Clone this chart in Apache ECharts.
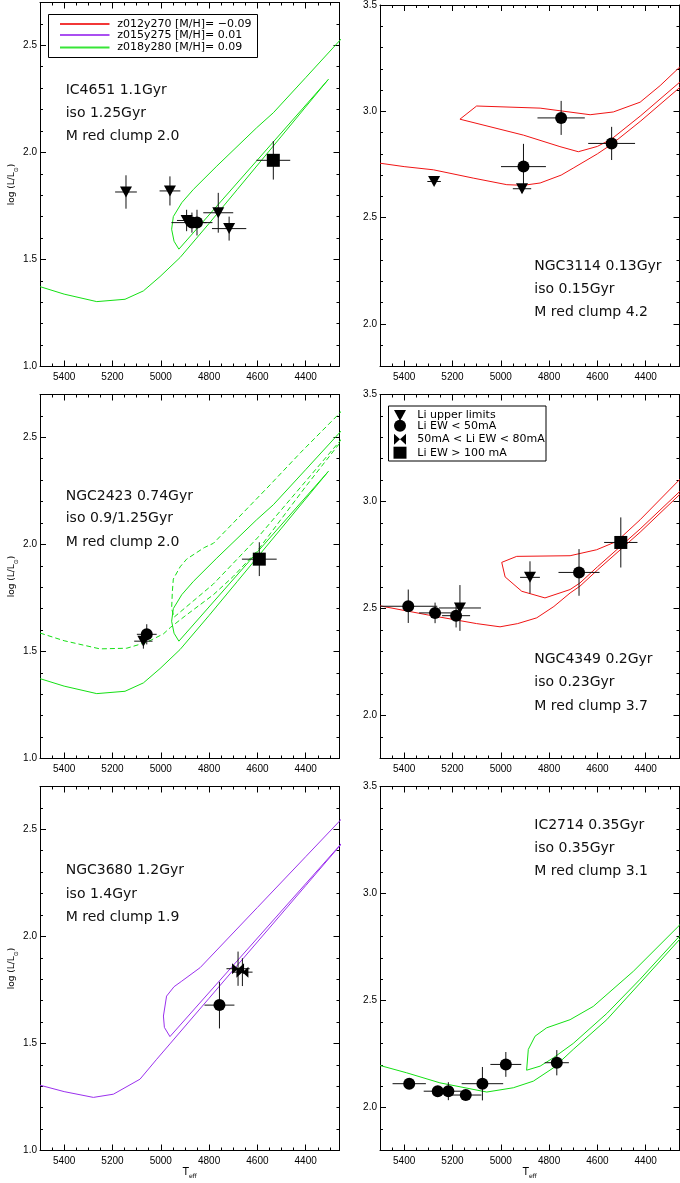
<!DOCTYPE html>
<html>
<head>
<meta charset="utf-8">
<title>Li-rich red clump giants and isochrones</title>
<script src="https://cdn.jsdelivr.net/npm/echarts@6.0.0/dist/echarts.min.js"></script>
<style>
html,body{margin:0;padding:0;background:#fff;}
#chart{width:680px;height:1183px;}
</style>
</head>
<body>
<div id="chart"></div>
<script>
// ---------------- axis ranges and ticks ----------------
const teffRange = [4260, 5500];
const teffTicks = [5400, 5200, 5000, 4800, 4600, 4400];
const teffMinorTicks = [5450, 5350, 5300, 5250, 5150, 5100, 5050, 4950, 4900, 4850, 4750, 4700, 4650, 4550, 4500, 4450, 4350, 4300];
const lumRangeLeft = [1.0, 2.7];
const lumTicksLeft = [1.0, 1.5, 2.0, 2.5];
const lumMinorLeft = [1.1, 1.2, 1.3, 1.4, 1.6, 1.7, 1.8, 1.9, 2.1, 2.2, 2.3, 2.4, 2.6];
const lumRangeRight = [1.8, 3.5];
const lumTicksRight = [2.0, 2.5, 3.0, 3.5];
const lumMinorRight = [1.9, 2.1, 2.2, 2.3, 2.4, 2.6, 2.7, 2.8, 2.9, 3.1, 3.2, 3.3, 3.4];

// ---------------- isochrones [Teff, log L/Lsun] ----------------
// z018y280 [M/H]=0.09, 1.25 Gyr
const isoZ018_125 = [
  [5500,1.373],[5400,1.338],[5265,1.303],[5148,1.314],[5072,1.353],[5003,1.420],[4920,1.509],
  [4800,1.668],[4683,1.827],[4500,2.076],[4306,2.341],
  [4925,1.548],[4945,1.585],[4955,1.641],[4948,1.700],[4913,1.765],[4865,1.827],[4768,1.936],
  [4603,2.115],[4534,2.185],[4400,2.349],[4261,2.520],[4230,2.558]
];
// z018y280 [M/H]=0.09, 0.9 Gyr (dashed)
const isoZ018_090 = [
  [5500,1.586],[5400,1.550],[5252,1.512],[5141,1.515],[5058,1.543],[4989,1.582],[4960,1.612],
  [4900,1.665],[4782,1.765],[4700,1.850],[4600,1.970],[4400,2.270],[4261,2.470],[4200,2.560],
  [4600,2.030],[4782,1.815],[4945,1.660],[4955,1.700],[4952,1.780],[4948,1.838],[4920,1.895],
  [4893,1.931],[4820,1.985],[4782,2.005],[4700,2.100],[4561,2.262],[4420,2.430],[4261,2.611],[4230,2.650]
];
// z015y275 [M/H]=0.01, 1.4 Gyr
const isoZ015_140 = [
  [5500,1.305],[5400,1.275],[5279,1.248],[5196,1.263],[5086,1.333],[5017,1.426],[4962,1.498],
  [4800,1.711],[4600,1.974],[4400,2.237],[4261,2.420],[4200,2.500],
  [4962,1.532],[4985,1.575],[4989,1.628],[4976,1.721],[4945,1.765],[4913,1.791],[4837,1.854],
  [4600,2.135],[4400,2.372],[4261,2.537],[4230,2.575]
];
// z012y270 [M/H]=-0.09, 0.15 Gyr
const isoZ012_015 = [
  [5500,2.756],[5400,2.740],[5279,2.725],[5114,2.686],[4975,2.655],[4906,2.652],[4837,2.663],
  [4750,2.700],[4700,2.733],[4600,2.800],[4541,2.845],[4420,2.955],[4261,3.110],[4200,3.180],
  [4261,3.135],[4420,2.980],[4541,2.870],[4600,2.835],[4679,2.810],[4755,2.834],[4906,2.888],[5169,2.963],
  [5100,3.025],[4837,3.015],[4630,2.984],[4534,2.997],[4423,3.043],[4340,3.121],[4261,3.206],[4230,3.240]
];
// z012y270 [M/H]=-0.09, 0.23 Gyr
const isoZ012_023 = [
  [5500,2.513],[5300,2.470],[5100,2.430],[5003,2.415],[4930,2.430],[4851,2.457],[4780,2.510],[4713,2.573],
  [4672,2.605],[4600,2.680],[4423,2.857],[4261,3.031],[4200,3.100],
  [4261,3.045],[4423,2.872],[4600,2.695],[4672,2.620],[4713,2.589],[4817,2.550],[4913,2.581],[4982,2.648],[4996,2.716],
  [4934,2.744],[4713,2.747],[4603,2.775],[4520,2.814],[4423,2.915],[4261,3.101],[4230,3.140]
];
// z018y280 [M/H]=0.09, 0.35 Gyr
const isoZ018_035 = [
  [5500,2.197],[5390,2.163],[5252,2.116],[5058,2.073],[4948,2.093],[4865,2.124],[4782,2.186],[4700,2.272],
  [4561,2.411],[4423,2.582],[4261,2.784],[4200,2.860],
  [4261,2.800],[4423,2.600],[4561,2.440],[4700,2.300],[4782,2.233],[4837,2.194],[4893,2.175],
  [4886,2.272],[4858,2.334],[4810,2.373],[4713,2.411],[4617,2.473],[4451,2.637],[4261,2.851],[4230,2.890]
];

// ---------------- stars [Teff, logL, errTeff, errLogL, class] ----------------
// class: ul = Li upper limit, lo = EW<50mA, mid = 50-80mA, hi = EW>100mA
const starsIC4651 = [
  [5144,1.815,45,0.078,'ul'],[4962,1.820,43,0.068,'ul'],[4893,1.682,40,0.050,'ul'],
  [4871,1.672,85,0.047,'lo'],[4850,1.672,40,0.060,'lo'],[4762,1.718,62,0.093,'ul'],
  [4717,1.644,71,0.056,'ul'],[4534,1.963,70,0.090,'hi']
];
const starsNGC2423 = [
  [5058,1.580,41,0.047,'lo'],[5072,1.548,38,0.035,'ul'],[4592,1.931,72,0.079,'hi']
];
const starsNGC3680 = [
  [4757,1.679,62,0.109,'lo'],[4680,1.849,48,0.080,'mid'],[4662,1.833,42,0.065,'mid']
];
const starsNGC3114 = [
  [4750,2.969,98,0.080,'lo'],[4541,2.849,97,0.078,'lo'],[4906,2.740,93,0.107,'lo'],
  [4912,2.636,38,0.020,'ul'],[5276,2.670,28,0.010,'ul']
];
const starsNGC4349 = [
  [5383,2.511,120,0.078,'lo'],[5272,2.480,66,0.048,'lo'],[5185,2.467,58,0.055,'lo'],
  [5169,2.503,87,0.107,'ul'],[4879,2.646,41,0.075,'ul'],[4676,2.669,85,0.109,'lo'],
  [4503,2.809,69,0.117,'hi']
];
const starsIC2714 = [
  [5379,2.112,69,0.020,'lo'],[5261,2.077,58,0.020,'lo'],[5217,2.077,55,0.042,'lo'],
  [5145,2.059,65,0.020,'lo'],[5076,2.112,86,0.078,'lo'],[4979,2.202,64,0.058,'lo'],
  [4768,2.210,50,0.059,'lo']
];

// ---------------- labels ----------------
const isoLegendNames = ['z012y270 [M/H]= \u22120.09', 'z015y275 [M/H]= 0.01', 'z018y280 [M/H]= 0.09'];
const starLegendNames = ['Li upper limits', 'Li EW < 50mA', '50mA < Li EW < 80mA', 'Li EW > 100 mA'];

// ---------------- styling / layout ----------------
const RED = '#f01414', PURPLE = '#9b30ee', GREEN = '#14e014';
const FONT = 'Liberation Sans';
const TFONT = 'DejaVu Sans';
const GRID_W = 299.5, GRID_H = 364;
const colLeft = [40, 380];
const rowTop = [2.5, 394.5, 786.5];

const panels = [
  {col:0, row:0, lines:[{data:isoZ018_125, color:GREEN, type:'solid'}], stars:starsIC4651,
   text:['IC4651 1.1Gyr','iso 1.25Gyr','M red clump 2.0'], tx:65.7, ty:[90,113.3,136.7]},
  {col:1, row:0, lines:[{data:isoZ012_015, color:RED, type:'solid'}], stars:starsNGC3114,
   text:['NGC3114 0.13Gyr','iso 0.15Gyr','M red clump 4.2'], tx:534.3, ty:[266,289.3,312.7]},
  {col:0, row:1, lines:[{data:isoZ018_125, color:GREEN, type:'solid'},{data:isoZ018_090, color:GREEN, type:[5,3]}], stars:starsNGC2423,
   text:['NGC2423 0.74Gyr','iso 0.9/1.25Gyr','M red clump 2.0'], tx:65.7, ty:[496,518.3,542.3]},
  {col:1, row:1, lines:[{data:isoZ012_023, color:RED, type:'solid'}], stars:starsNGC4349,
   text:['NGC4349 0.2Gyr','iso 0.23Gyr','M red clump 3.7'], tx:534.3, ty:[659,682.5,706]},
  {col:0, row:2, lines:[{data:isoZ015_140, color:PURPLE, type:'solid'}], stars:starsNGC3680,
   text:['NGC3680 1.2Gyr','iso 1.4Gyr','M red clump 1.9'], tx:65.7, ty:[870.7,894.3,917.7]},
  {col:1, row:2, lines:[{data:isoZ018_035, color:GREEN, type:'solid'}], stars:starsIC2714,
   text:['IC2714 0.35Gyr','iso 0.35Gyr','M red clump 3.1'], tx:534.3, ty:[825,848,871]}
];

const symbolOf = {
  ul: {symbol:'triangle', size:[12,11], rotate:180},
  lo: {symbol:'circle', size:12, rotate:0},
  mid:{symbol:'path://M0,0L10,10L0,20ZM20,0L10,10L20,20Z', size:[12,11], rotate:0},
  hi: {symbol:'rect', size:13, rotate:0}
};

const grids = [], xAxes = [], yAxes = [], series = [], graphics = [];
const tickLine = {color:'#000', width:1};

panels.forEach((p, g) => {
  grids.push({left:colLeft[p.col], top:rowTop[p.row], width:GRID_W, height:GRID_H, containLabel:false});
  const yr = p.col === 0 ? lumRangeLeft : lumRangeRight;
  const yt = p.col === 0 ? lumTicksLeft : lumTicksRight;
  const ym = p.col === 0 ? lumMinorLeft : lumMinorRight;
  const xBase = {gridIndex:g, type:'value', min:teffRange[0], max:teffRange[1], inverse:true,
    splitLine:{show:false}, silent:true};
  const yBase = {gridIndex:g, type:'value', min:yr[0], max:yr[1], splitLine:{show:false}, silent:true};
  const bottomRow = p.row === 2;
  xAxes.push(Object.assign({}, xBase, {
    position:'bottom',
    axisLine:{show:true, onZero:false, lineStyle:tickLine},
    axisTick:{show:true, inside:true, length:6, customValues:teffTicks, lineStyle:tickLine},
    axisLabel:{show:true, customValues:teffTicks, margin:6, fontSize:10, color:'#000', fontFamily:FONT,
      formatter:v => String(Math.round(v))},
    name: bottomRow ? '{n|T}{s|eff}' : '',
    nameLocation:'middle', nameGap:15,
    nameTextStyle:{color:'#000', rich:{n:{fontSize:10, fontFamily:TFONT, color:'#000', lineHeight:14},
      s:{fontSize:6, fontFamily:TFONT, color:'#000', verticalAlign:'bottom', lineHeight:14}}}
  }));
  xAxes.push(Object.assign({}, xBase, {
    position:'bottom', axisLine:{show:false, onZero:false},
    axisTick:{show:true, inside:true, length:3, customValues:teffMinorTicks, lineStyle:tickLine},
    axisLabel:{show:false}
  }));
  xAxes.push(Object.assign({}, xBase, {
    position:'top', axisLine:{show:true, onZero:false, lineStyle:tickLine},
    axisTick:{show:true, inside:true, length:6, customValues:teffTicks, lineStyle:tickLine},
    axisLabel:{show:false}
  }));
  xAxes.push(Object.assign({}, xBase, {
    position:'top', axisLine:{show:false, onZero:false},
    axisTick:{show:true, inside:true, length:3, customValues:teffMinorTicks, lineStyle:tickLine},
    axisLabel:{show:false}
  }));
  yAxes.push(Object.assign({}, yBase, {
    position:'left', axisLine:{show:true, onZero:false, lineStyle:tickLine},
    axisTick:{show:true, inside:true, length:6, customValues:yt, lineStyle:tickLine},
    axisLabel:{show:true, customValues:yt, margin:3, fontSize:10, color:'#000', fontFamily:FONT,
      formatter:v => Number(v).toFixed(1)},
    name: p.col === 0 ? '{n|log (L/L}{s|\u2299}{n|)}' : '',
    nameLocation:'middle', nameGap:21, nameRotate:90,
    nameTextStyle:{color:'#000', rich:{n:{fontSize:9, fontFamily:TFONT, color:'#000', lineHeight:14},
      s:{fontSize:6, fontFamily:TFONT, color:'#000', verticalAlign:'bottom', lineHeight:14}}}
  }));
  yAxes.push(Object.assign({}, yBase, {
    position:'left', axisLine:{show:false, onZero:false},
    axisTick:{show:true, inside:true, length:3, customValues:ym, lineStyle:tickLine},
    axisLabel:{show:false}
  }));
  yAxes.push(Object.assign({}, yBase, {
    position:'right', axisLine:{show:true, onZero:false, lineStyle:tickLine},
    axisTick:{show:true, inside:true, length:6, customValues:yt, lineStyle:tickLine},
    axisLabel:{show:false}
  }));
  yAxes.push(Object.assign({}, yBase, {
    position:'right', axisLine:{show:false, onZero:false},
    axisTick:{show:true, inside:true, length:3, customValues:ym, lineStyle:tickLine},
    axisLabel:{show:false}
  }));

  const xi = 4 * g, yi = 4 * g;
  p.lines.forEach(l => {
    series.push({type:'line', xAxisIndex:xi, yAxisIndex:yi, data:l.data, showSymbol:false, symbol:'none',
      lineStyle:{color:l.color, width:1, type:l.type}, clip:true, silent:true, z:2, animation:false});
  });
  series.push({type:'custom', xAxisIndex:xi, yAxisIndex:yi, clip:true, silent:true, z:3, animation:false,
    data:p.stars.map(s => [s[0], s[1], s[2], s[3]]), encode:{x:0, y:1},
    renderItem:(params, api) => {
      const x = api.value(0), y = api.value(1), ex = api.value(2), ey = api.value(3);
      const a = api.coord([x + ex, y]), b = api.coord([x - ex, y]);
      const c = api.coord([x, y + ey]), d = api.coord([x, y - ey]);
      return {type:'group', children:[
        {type:'line', shape:{x1:a[0], y1:a[1], x2:b[0], y2:b[1]}, style:{stroke:'#111', lineWidth:1}},
        {type:'line', shape:{x1:c[0], y1:c[1], x2:d[0], y2:d[1]}, style:{stroke:'#111', lineWidth:1}}
      ]};
    }});
  ['ul','lo','mid','hi'].forEach((cls, k) => {
    const pts = p.stars.filter(s => s[4] === cls).map(s => [s[0], s[1]]);
    if (!pts.length) return;
    const sy = symbolOf[cls];
    series.push({type:'scatter', name:starLegendNames[k], xAxisIndex:xi, yAxisIndex:yi, data:pts,
      symbol:sy.symbol, symbolSize:sy.size, symbolRotate:sy.rotate, itemStyle:{color:'#000', opacity:1},
      silent:true, z:4, animation:false});
  });

  p.text.forEach((t, k) => {
    graphics.push({type:'text', x:p.tx, y:p.ty[k], silent:true,
      style:{text:t, fontSize:14, fontFamily:TFONT, fill:'#111', align:'left', verticalAlign:'middle',
        textAlign:'left', textVerticalAlign:'middle'}});
  });
});

// ---- isochrone legend (top-left panel) ----
graphics.push({type:'rect', shape:{x:48.5, y:14.5, width:209, height:43}, style:{fill:'#fff', stroke:'#000', lineWidth:1}, z:10});
[[RED,24],[PURPLE,35],[GREEN,47.5]].forEach((c, k) => {
  graphics.push({type:'line', shape:{x1:60, y1:c[1], x2:109.5, y2:c[1]}, style:{stroke:c[0], lineWidth:1.8, opacity:0.85}, z:11});
  graphics.push({type:'text', x:117.3, y:c[1], z:11,
    style:{text:isoLegendNames[k], fontSize:11, fontFamily:TFONT, fill:'#000', align:'left', verticalAlign:'middle',
      textAlign:'left', textVerticalAlign:'middle'}});
});

// ---- star-class legend (middle-right panel) ----
graphics.push({type:'rect', shape:{x:388.5, y:406, width:157.5, height:55}, style:{fill:'#fff', stroke:'#000', lineWidth:1}, z:10});
const lgY = [415, 425.7, 439.3, 452.7], lgX = 400;
graphics.push({type:'polygon', shape:{points:[[lgX-6,lgY[0]-5],[lgX+6,lgY[0]-5],[lgX,lgY[0]+6]]}, style:{fill:'#000'}, z:11});
graphics.push({type:'circle', shape:{cx:lgX, cy:lgY[1], r:6}, style:{fill:'#000'}, z:11});
graphics.push({type:'polygon', shape:{points:[[lgX-6,lgY[2]-5.5],[lgX,lgY[2]],[lgX-6,lgY[2]+5.5]]}, style:{fill:'#000'}, z:11});
graphics.push({type:'polygon', shape:{points:[[lgX+6,lgY[2]-5.5],[lgX,lgY[2]],[lgX+6,lgY[2]+5.5]]}, style:{fill:'#000'}, z:11});
graphics.push({type:'rect', shape:{x:lgX-6.5, y:lgY[3]-6, width:13, height:12}, style:{fill:'#000'}, z:11});
starLegendNames.forEach((t, k) => {
  graphics.push({type:'text', x:417.3, y:lgY[k], z:11,
    style:{text:t, fontSize:11, fontFamily:TFONT, fill:'#000', align:'left', verticalAlign:'middle',
      textAlign:'left', textVerticalAlign:'middle'}});
});

const chart = echarts.init(document.getElementById('chart'), null, {renderer:'canvas', width:680, height:1183});
chart.setOption({
  backgroundColor:'#fff',
  animation:false,
  grid:grids,
  xAxis:xAxes,
  yAxis:yAxes,
  series:series,
  graphic:{elements:graphics}
});
</script>
</body>
</html>
